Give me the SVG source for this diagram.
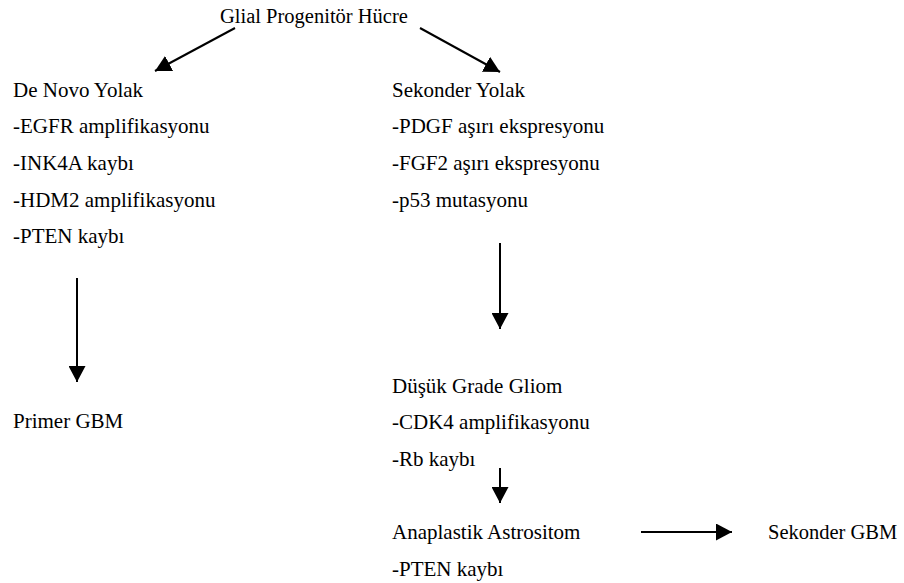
<svg xmlns="http://www.w3.org/2000/svg" width="904" height="583" viewBox="0 0 904 583">
<defs>
<style>
text{font-family:"Liberation Serif","Times New Roman",serif;font-size:21px;fill:#000}
.s{font-size:20.5px}
.c{stroke:#000;stroke-width:2;fill:none;marker-end:url(#ah)}
</style>
<marker id="ah" markerUnits="userSpaceOnUse" markerWidth="17" markerHeight="17" refX="16" refY="8.5" orient="auto" viewBox="0 0 17 17">
<path d="M0,0 L16,8.5 L0,17 z" fill="#000"/>
</marker>
</defs>
<rect width="904" height="583" fill="#fff"/>
<g id="connectors">
<line class="c" x1="235" y1="28" x2="155" y2="71"/>
<line class="c" x1="420" y1="28" x2="500" y2="72"/>
<line class="c" x1="77" y1="278" x2="77" y2="382"/>
<line class="c" x1="500" y1="243" x2="500" y2="329"/>
<line class="c" x1="500" y1="468" x2="500" y2="503"/>
<line class="c" x1="641" y1="532" x2="732" y2="532"/>
</g>
<g id="glial"><text class="s" x="220" y="23">Glial Progenitör Hücre</text></g>
<g id="denovo">
<text x="13" y="97">De Novo Yolak</text>
<text x="13" y="133">-EGFR amplifikasyonu</text>
<text x="13" y="170">-INK4A kaybı</text>
<text x="13" y="207">-HDM2 amplifikasyonu</text>
<text x="13" y="243">-PTEN kaybı</text>
</g>
<g id="sekonder">
<text x="392" y="97">Sekonder Yolak</text>
<text x="392" y="133">-PDGF aşırı ekspresyonu</text>
<text x="392" y="170">-FGF2 aşırı ekspresyonu</text>
<text x="392" y="207">-p53 mutasyonu</text>
</g>
<g id="primer"><text x="13" y="428">Primer GBM</text></g>
<g id="dusuk">
<text x="392" y="393">Düşük Grade Gliom</text>
<text x="392" y="429">-CDK4 amplifikasyonu</text>
<text x="392" y="466">-Rb kaybı</text>
</g>
<g id="anaplastik">
<text x="392" y="539">Anaplastik Astrositom</text>
<text x="392" y="576">-PTEN kaybı</text>
</g>
<g id="sekondergbm"><text class="s" x="768" y="539">Sekonder GBM</text></g>
</svg>
